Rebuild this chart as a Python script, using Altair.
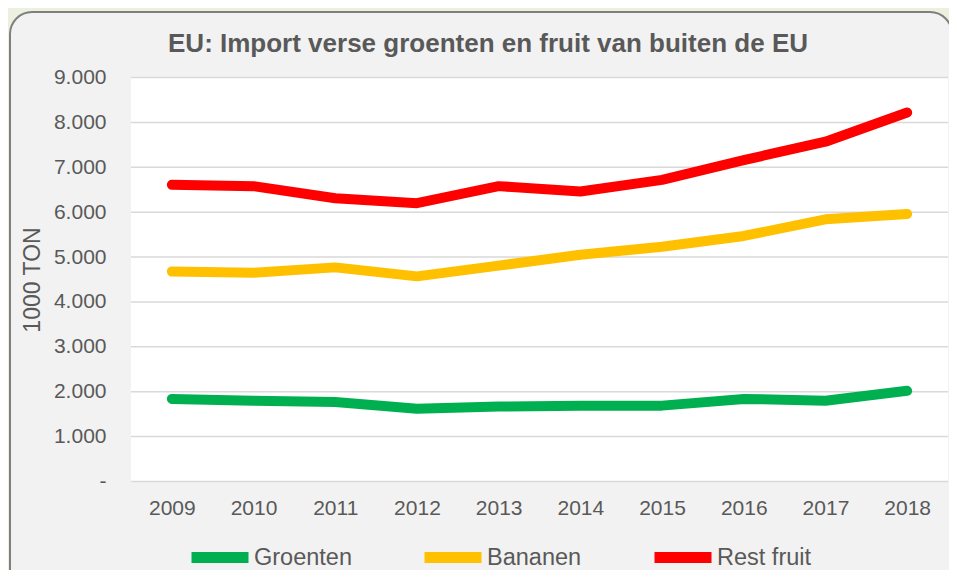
import altair as alt
import pandas as pd

years = [2009, 2010, 2011, 2012, 2013, 2014, 2015, 2016, 2017, 2018]
groenten = [1840, 1800, 1770, 1620, 1670, 1690, 1690, 1840, 1800, 2020]
bananen = [4680, 4650, 4770, 4570, 4810, 5050, 5230, 5470, 5840, 5960]
rest_fruit = [6610, 6580, 6310, 6200, 6580, 6460, 6720, 7160, 7570, 8220]

series_names = ["Groenten", "Bananen", "Rest fruit"]
series_colors = ["#00B050", "#FFC000", "#FF0000"]
y_ticks = [0, 1000, 2000, 3000, 4000, 5000, 6000, 7000, 8000, 9000]

title_text = "EU: Import verse groenten en fruit van buiten de EU"
y_title = "1000 TON"

rows = []
for name, vals in zip(series_names, [groenten, bananen, rest_fruit]):
    for yr, v in zip(years, vals):
        rows.append({"year": yr, "series": name, "value": v})
df = pd.DataFrame(rows)

W, H = 817, 404
TXT = "#595959"
FONT = "Liberation Sans"

one = pd.DataFrame({"k": [0]})

panel = alt.Chart(one).mark_rect(
    cornerRadius=22, fill="#F2F2F2", stroke="#7F7F7F", strokeWidth=2
).encode(x=alt.value(-121), x2=alt.value(821), y=alt.value(-65.5), y2=alt.value(520))

plot_bg = alt.Chart(one).mark_rect(fill="white").encode(
    x=alt.value(0), x2=alt.value(W), y=alt.value(0), y2=alt.value(H)
)

yscale = alt.Scale(domain=[0, 9000], nice=False)
yaxis = alt.Axis(
    values=y_ticks, domain=False, ticks=False, grid=False,
    labelExpr="datum.value == 0 ? '-\u2007' : replace(format(datum.value, ','), ',', '.')",
    labelFontSize=21, labelColor=TXT, labelFont=FONT, labelPadding=25,
    title=y_title, titleFontSize=23, titleColor=TXT, titleFont=FONT,
    titleFontWeight="normal", titleX=-99, titleY=H / 2, titleAngle=-90,
    titleAlign="center", titleBaseline="middle", zindex=1,
)

grid = alt.Chart(pd.DataFrame({"value": y_ticks})).mark_rule(
    color="#D9D9D9", strokeWidth=1.5
).encode(
    y=alt.Y("value:Q", scale=yscale, axis=yaxis),
    x=alt.value(0),
    x2=alt.value(W),
)

lines = alt.Chart(df).mark_line(
    strokeWidth=10, strokeCap="round", strokeJoin="round"
).encode(
    x=alt.X(
        "year:O",
        scale=alt.Scale(type="point", padding=0.5),
        axis=alt.Axis(
            title=None, domain=False, ticks=False, grid=False,
            labelAngle=0, labelFontSize=21, labelColor=TXT, labelFont=FONT,
            labelPadding=16, zindex=1,
        ),
    ),
    y=alt.Y("value:Q", scale=yscale, axis=yaxis),
    color=alt.Color(
        "series:N",
        scale=alt.Scale(domain=series_names, range=series_colors),
        legend=alt.Legend(
            title=None, orient="none", legendX=55, legendY=446, direction="horizontal",
            symbolType="stroke", symbolSize=57 * 57, symbolStrokeWidth=11,
            labelFontSize=23.5, labelColor=TXT, labelFont=FONT, labelOffset=0,
            columnPadding=50, padding=0, zindex=1,
        ),
    ),
    detail="series:N",
)

chart = alt.layer(panel, plot_bg, grid, lines).properties(
    width=W,
    height=H,
    title=alt.TitleParams(
        text=title_text, fontSize=26, fontWeight="bold", color=TXT, font=FONT,
        anchor="middle", dx=-51.5, offset=-67, baseline="alphabetic", zindex=1,
    ),
    background="#EBF1DE",
    padding={"left": 123, "top": 69.5, "right": 1, "bottom": 88.5},
    autosize=alt.AutoSizeParams(type="none"),
).configure_view(stroke=None)

chart.save("out.html", embed_options={"renderer": "svg", "actions": False})
